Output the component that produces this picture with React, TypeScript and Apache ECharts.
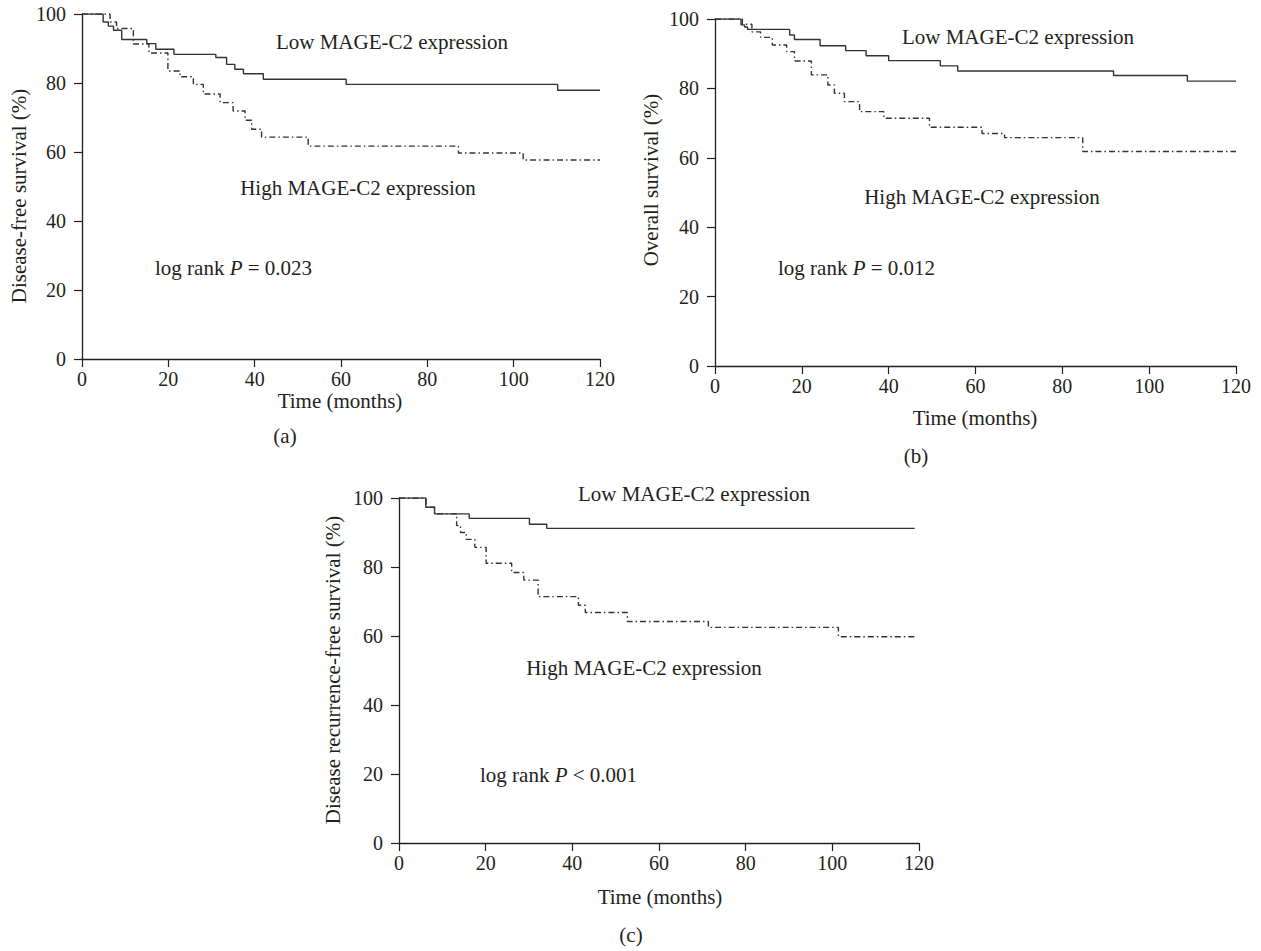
import React, { useEffect, useRef } from "react";
import * as echarts from "echarts";

// ---------- data ----------
const xTicks = [0, 20, 40, 60, 80, 100, 120];
const yTicks = [0, 20, 40, 60, 80, 100];

// (a) Disease-free survival
const dfsLowT = [0, 4.9, 6.1, 7.3, 9.2, 15.0, 17.1, 21.3, 31.0, 33.5, 35.4, 37.4, 42.0, 61.2, 110.2, 120];
const dfsLowV = [100, 97.7, 96.5, 95.3, 92.6, 91.4, 89.8, 88.3, 87.4, 85.4, 84.0, 82.7, 81.1, 79.6, 77.9, 77.9];
const dfsHighT = [0, 6.5, 8.0, 11.9, 15.5, 19.9, 22.7, 25.8, 28.1, 32.0, 35.0, 37.8, 39.3, 41.6, 52.4, 87.2, 102.2, 120];
const dfsHighV = [100, 97.7, 95.8, 91.3, 88.7, 83.5, 81.8, 79.6, 76.8, 74.3, 71.9, 69.2, 66.6, 64.3, 61.7, 59.7, 57.7, 57.7];

// (b) Overall survival
const osLowT = [0, 6.0, 6.8, 7.5, 17.2, 18.3, 24.2, 30.1, 34.8, 40.0, 51.9, 55.9, 91.8, 108.8, 120];
const osLowV = [100, 98.3, 97.7, 97.0, 95.4, 94.1, 92.3, 90.9, 89.4, 88.0, 86.5, 85.0, 83.7, 82.1, 82.1];
const osHighT = [0, 6.3, 8.5, 10.5, 13.2, 16.5, 18.3, 22.2, 26.0, 27.5, 29.8, 33.3, 38.9, 49.4, 61.5, 66.7, 84.7, 120];
const osHighV = [100, 98.5, 96.3, 94.7, 92.5, 90.6, 87.9, 83.9, 81.0, 78.6, 76.2, 73.3, 71.4, 68.8, 67.0, 65.8, 61.8, 61.8];

// (c) Disease recurrence-free survival
const drfsLowT = [0, 6.2, 8.2, 16.2, 30.1, 34.1, 119];
const drfsLowV = [100, 97.3, 95.4, 94.1, 92.4, 91.2, 91.2];
const drfsHighT = [0, 6.2, 8.2, 13.3, 14.2, 15.5, 17.5, 20.1, 26.0, 28.8, 32.1, 41.4, 43.0, 52.7, 71.4, 101.4, 119];
const drfsHighV = [100, 97.3, 95.4, 92.0, 90.0, 88.0, 85.7, 81.1, 78.4, 76.2, 71.4, 68.9, 66.8, 64.2, 62.5, 59.8, 59.8];

const lowLabel = "Low MAGE-C2 expression";
const highLabel = "High MAGE-C2 expression";
const xName = "Time (months)";
const yNames = ["Disease-free survival (%)", "Overall survival (%)", "Disease recurrence-free survival (%)"];
const pTexts = ["= 0.023", "= 0.012", "< 0.001"];
const captions = ["(a)", "(b)", "(c)"];

// ---------- style ----------
const FONT = "'Liberation Serif', 'Times New Roman', serif";
const INK = "#231f20";
const LINE = "#333333";
const FS = 21;

const zip = (t: number[], v: number[]) => t.map((x, i) => [x, v[i]]);

export default function App() {
  const ref = useRef<HTMLDivElement>(null);

  useEffect(() => {
    if (!ref.current) return;
    const chart = echarts.init(ref.current, undefined, { renderer: "svg" });

    const grids = [
      { left: 82, top: 14, width: 518, height: 345 },
      { left: 715, top: 19, width: 521, height: 347 },
      { left: 399, top: 498, width: 520, height: 345 },
    ];

    const axisCommon = {
      type: "value" as const,
      axisLine: { show: true, onZero: false, lineStyle: { color: INK, width: 1.3 } },
      axisTick: { show: true, inside: false, length: 8, lineStyle: { color: INK, width: 1.2 } },
      splitLine: { show: false },
    };

    const xAxes = grids.map((_, i) => ({
      ...axisCommon,
      gridIndex: i,
      min: xTicks[0],
      max: xTicks[xTicks.length - 1],
      interval: 20,
      axisLabel: { fontFamily: FONT, fontSize: 20, color: INK, margin: 10 },
    }));
    const yAxes = grids.map((_, i) => ({
      ...axisCommon,
      gridIndex: i,
      min: yTicks[0],
      max: yTicks[yTicks.length - 1],
      interval: 20,
      axisLabel: { fontFamily: FONT, fontSize: 20, color: INK, margin: 16 },
    }));

    const curves = [
      [zip(dfsLowT, dfsLowV), zip(dfsHighT, dfsHighV)],
      [zip(osLowT, osLowV), zip(osHighT, osHighV)],
      [zip(drfsLowT, drfsLowV), zip(drfsHighT, drfsHighV)],
    ];

    const series: any[] = [];
    curves.forEach((pair, i) => {
      series.push({
        type: "line",
        name: lowLabel + " " + captions[i],
        xAxisIndex: i,
        yAxisIndex: i,
        data: pair[0],
        step: "end",
        symbol: "none",
        lineStyle: { color: LINE, width: 1.4, type: "solid" },
      });
      series.push({
        type: "line",
        name: highLabel + " " + captions[i],
        xAxisIndex: i,
        yAxisIndex: i,
        data: pair[1],
        step: "end",
        symbol: "none",
        lineStyle: { color: LINE, width: 1.4, type: [6, 3, 1.5, 3] },
      });
    });

    const txt = (text: string, x: number, y: number, extra: any = {}) => ({
      type: "text",
      x,
      y,
      ...extra,
      style: {
        text,
        fontFamily: FONT,
        fontSize: FS,
        fill: INK,
        textAlign: "center",
        textVerticalAlign: "middle",
      },
    });

    const rich = {
      n: { fontFamily: FONT, fontSize: FS, color: INK },
      i: { fontFamily: FONT, fontSize: FS, fontStyle: "italic", color: INK },
    };
    const logRank = (p: string, x: number, y: number) => ({
      type: "text",
      x,
      y,
      style: {
        text: "{n|log rank }{i|P}{n| " + p + "}",
        rich,
        fontFamily: FONT,
        fontSize: FS,
        fill: INK,
        textAlign: "left",
        textVerticalAlign: "middle",
      },
    });

    const graphic: any[] = [
      // (a)
      txt(lowLabel, 392, 42),
      txt(highLabel, 358, 188),
      logRank(pTexts[0], 155, 268),
      txt(xName, 340, 401),
      txt(captions[0], 285, 436),
      txt(yNames[0], 19, 196, { rotation: Math.PI / 2 }),
      // (b)
      txt(lowLabel, 1018, 37),
      txt(highLabel, 982, 197),
      logRank(pTexts[1], 778, 268),
      txt(xName, 975, 418),
      txt(captions[1], 916, 456),
      txt(yNames[1], 651, 180, { rotation: Math.PI / 2 }),
      // (c)
      txt(lowLabel, 694, 494),
      txt(highLabel, 644, 668),
      logRank(pTexts[2], 480, 775),
      txt(xName, 660, 897),
      txt(captions[2], 631, 935),
      txt(yNames[2], 333, 670, { rotation: Math.PI / 2 }),
    ];

    chart.setOption({
      animation: false,
      backgroundColor: "#ffffff",
      grid: grids.map((g) => ({ ...g, containLabel: false, outerBoundsMode: "none" })),
      xAxis: xAxes,
      yAxis: yAxes,
      series,
      graphic,
    });

    return () => chart.dispose();
  }, []);

  return (
    <div
      ref={ref}
      style={{ position: "absolute", left: 0, top: 0, width: 1261, height: 951, background: "#fff" }}
    />
  );
}
